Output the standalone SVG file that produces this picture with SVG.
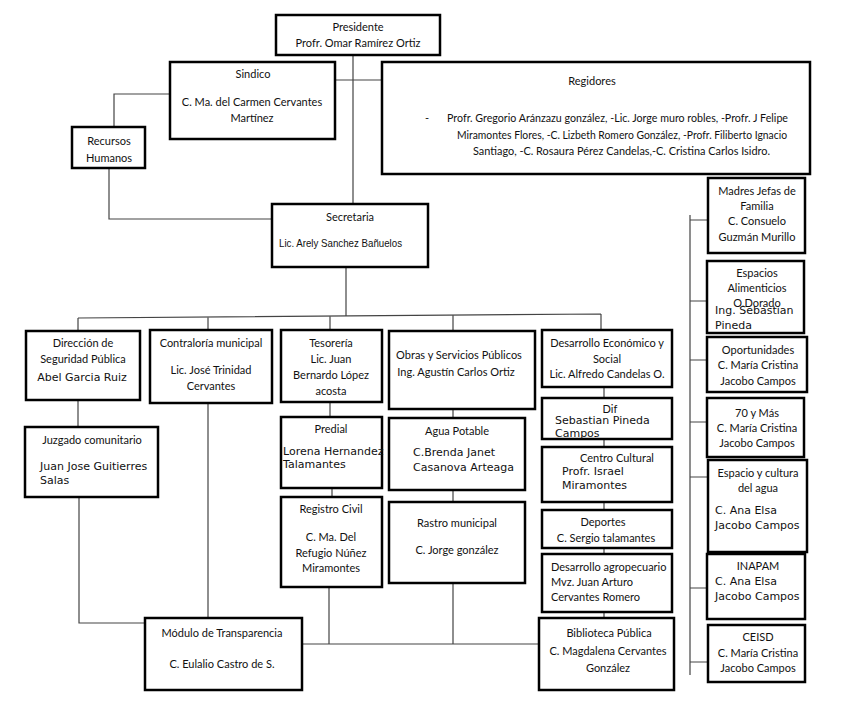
<svg xmlns="http://www.w3.org/2000/svg" width="844" height="718" viewBox="0 0 844 718">
<style>
.b{fill:#fff;stroke:#000;stroke-width:2.5}
.t{font-family:Lato,"Liberation Sans",sans-serif;font-size:11px;fill:#111;text-anchor:middle}
.l{font-family:Lato,"Liberation Sans",sans-serif;font-size:11px;fill:#111}
.d{font-family:"DejaVu Sans",sans-serif;font-size:11px;fill:#111}
.c{fill:none;stroke:#444;stroke-width:1.2}
</style>
<rect width="844" height="718" fill="#fff"/>
<g id="connectors">
<path class="c" d="M353,55V204M335,80H382M114,127V94H170M109,168V219H272M346,267V316"/>
<path class="c" d="M78,318L601,314M78,318V331M208,317V330M330,316V330M453,315V331M601,314V330"/>
<path class="c" d="M78,400V427M79,497V623H145M208,403V618"/>
<path class="c" d="M330,402V417M332,488V497M329,587V644M453,409V418M453,490V502M453,583V644M302,644H539"/>
<path class="c" d="M604,387V398M604,439V447M604,502V510M604,548V554M604,612V618"/>
<path class="c" d="M690,215V675M690,220H708M690,301H707M690,360H707M690,422H707M690,477H708M690,588H707M690,662H708"/>
<path d="M343,330V345" stroke="#8aa0b8" stroke-width="1"/>
</g>
<g id="presidente"><rect class="b" x="276" y="15" width="164" height="40"/><text class="t" x="358" y="31">Presidente</text><text class="t" x="358" y="47">Profr. Omar Ramírez Ortiz</text></g>
<g id="sindico"><rect class="b" x="170" y="62" width="165" height="77"/><text class="t" x="253" y="78">Sindico</text><text class="t" x="252" y="106">C. Ma. del Carmen Cervantes</text><text class="t" x="252" y="122">Martínez</text></g>
<g id="regidores"><rect class="b" x="382" y="62" width="428" height="112"/><text class="t" x="592" y="85">Regidores</text><text class="l" x="425" y="122">-</text>
<text class="l" x="447" y="122" textLength="341" lengthAdjust="spacingAndGlyphs">Profr. Gregorio Aránzazu gonzález, -Lic. Jorge muro robles, -Profr. J Felipe</text>
<text class="l" x="457" y="139" textLength="330" lengthAdjust="spacingAndGlyphs">Miramontes Flores, -C. Lizbeth Romero González, -Profr. Filiberto Ignacio</text>
<text class="l" x="473" y="155" textLength="297" lengthAdjust="spacingAndGlyphs">Santiago, -C. Rosaura Pérez Candelas,-C. Cristina Carlos Isidro.</text></g>
<g id="recursos-humanos"><rect class="b" x="72" y="127" width="73" height="41"/><text class="t" x="109" y="145">Recursos</text><text class="t" x="109" y="162">Humanos</text></g>
<g id="secretaria"><rect class="b" x="272" y="204" width="156" height="63"/><text class="t" x="350" y="221">Secretaria</text><text x="279" y="247" font-family="'Liberation Sans',sans-serif" font-size="11" fill="#111" textLength="123" lengthAdjust="spacingAndGlyphs">Lic. Arely Sanchez Bañuelos</text></g>
<g id="direccion"><rect class="b" x="26" y="331" width="114" height="69"/><text class="t" x="83" y="347">Dirección de</text><text class="t" x="83" y="363">Seguridad Pública</text><text class="d" x="82" y="381" text-anchor="middle">Abel Garcia Ruiz</text></g>
<g id="contraloria"><rect class="b" x="150" y="330" width="122" height="73"/><text class="t" x="211" y="347">Contraloría municipal</text><text class="t" x="211" y="374">Lic. José Trinidad</text><text class="t" x="211" y="390">Cervantes</text></g>
<g id="juzgado"><rect class="b" x="25" y="427" width="133" height="70"/><text class="t" x="92" y="444">Juzgado comunitario</text><text class="d" x="40" y="470">Juan Jose Guitierres</text><text class="d" x="40" y="484">Salas</text></g>
<g id="tesoreria"><rect class="b" x="281" y="330" width="101" height="72"/><text class="t" x="331" y="347">Tesorería</text><text class="t" x="331" y="363">Lic. Juan</text><text class="t" x="331" y="379">Bernardo López</text><text class="t" x="331" y="395">acosta</text></g>
<g id="predial"><rect class="b" x="281" y="417" width="101" height="71"/><text class="t" x="331" y="433">Predial</text><text class="d" x="283" y="455">Lorena Hernandez</text><text class="d" x="283" y="468">Talamantes</text></g>
<g id="registro-civil"><rect class="b" x="281" y="497" width="101" height="90"/><text class="t" x="331" y="513">Registro Civil</text><text class="t" x="331" y="541">C. Ma. Del</text><text class="t" x="331" y="557">Refugio Núñez</text><text class="t" x="331" y="572">Miramontes</text></g>
<g id="obras"><rect class="b" x="389" y="331" width="146" height="78"/><text class="t" x="459" y="359">Obras y Servicios Públicos</text><text class="t" x="456" y="376">Ing. Agustín Carlos Ortiz</text></g>
<g id="agua-potable"><rect class="b" x="389" y="418" width="136" height="72"/><text class="t" x="457" y="435">Agua Potable</text><text class="d" x="413" y="456">C.Brenda Janet</text><text class="d" x="413" y="471">Casanova Arteaga</text></g>
<g id="rastro"><rect class="b" x="389" y="502" width="136" height="81"/><text class="t" x="457" y="527">Rastro municipal</text><text class="t" x="457" y="554">C. Jorge gonzález</text></g>
<g id="desarrollo-economico"><rect class="b" x="542" y="330" width="130" height="57"/><text class="t" x="607" y="347">Desarrollo Económico y</text><text class="t" x="607" y="363">Social</text><text class="t" x="607" y="378">Lic. Alfredo Candelas O.</text></g>
<g id="dif"><rect class="b" x="542" y="398" width="130" height="41"/><text class="t" x="610" y="413">Dif</text><text class="d" x="555" y="424">Sebastian Pineda</text><text class="d" x="555" y="437">Campos</text></g>
<g id="centro-cultural"><rect class="b" x="542" y="447" width="130" height="55"/><text class="t" x="617" y="462">Centro Cultural</text><text class="d" x="562" y="475">Profr. Israel</text><text class="d" x="562" y="489">Miramontes</text></g>
<g id="deportes"><rect class="b" x="542" y="510" width="130" height="38"/><text class="t" x="603" y="526">Deportes</text><text class="t" x="606" y="542">C. Sergio talamantes</text></g>
<g id="desarrollo-agropecuario"><rect class="b" x="542" y="554" width="130" height="58"/><text class="l" x="551" y="571">Desarrollo agropecuario</text><text class="l" x="551" y="586">Mvz. Juan Arturo</text><text class="l" x="551" y="601">Cervantes Romero</text></g>
<g id="biblioteca"><rect class="b" x="539" y="618" width="135" height="72"/><text class="t" x="609" y="637">Biblioteca Pública</text><text class="t" x="608" y="655">C. Magdalena Cervantes</text><text class="t" x="608" y="672">González</text></g>
<g id="modulo"><rect class="b" x="145" y="618" width="157" height="72"/><text class="t" x="222" y="637">Módulo de Transparencia</text><text class="t" x="222" y="668">C. Eulalio Castro de S.</text></g>
<g id="madres"><rect class="b" x="708" y="178" width="97" height="75"/><text class="t" x="757" y="195">Madres Jefas de</text><text class="t" x="757" y="210">Familia</text><text class="t" x="757" y="225">C. Consuelo</text><text class="t" x="757" y="241">Guzmán Murillo</text></g>
<g id="espacios-alimenticios"><rect class="b" x="707" y="261" width="97" height="72"/><text class="t" x="757" y="277">Espacios</text><text class="t" x="757" y="292">Alimenticios</text><text class="t" x="757" y="307">O.Dorado</text><text class="d" x="715" y="314">Ing. Sebastian</text><text class="d" x="715" y="329">Pineda</text></g>
<g id="oportunidades"><rect class="b" x="707" y="337" width="100" height="55"/><text class="t" x="758" y="354">Oportunidades</text><text class="t" x="758" y="369">C. María Cristina</text><text class="t" x="758" y="385">Jacobo Campos</text></g>
<g id="setenta"><rect class="b" x="707" y="398" width="97" height="59"/><text class="t" x="757" y="417">70 y Más</text><text class="t" x="757" y="432">C. María Cristina</text><text class="t" x="757" y="447">Jacobo Campos</text></g>
<g id="espacio-cultura-agua"><rect class="b" x="708" y="460" width="99" height="92"/><text class="t" x="758" y="477">Espacio y cultura</text><text class="t" x="758" y="492">del agua</text><text class="d" x="715" y="514">C. Ana Elsa</text><text class="d" x="715" y="529">Jacobo Campos</text></g>
<g id="inapam"><rect class="b" x="707" y="554" width="98" height="65"/><text class="t" x="758" y="570">INAPAM</text><text class="d" x="715" y="585">C. Ana Elsa</text><text class="d" x="715" y="600">Jacobo Campos</text></g>
<g id="ceisd"><rect class="b" x="708" y="625" width="97" height="57"/><text class="t" x="758" y="641">CEISD</text><text class="t" x="758" y="657">C. María Cristina</text><text class="t" x="758" y="672">Jacobo Campos</text></g>
</svg>
